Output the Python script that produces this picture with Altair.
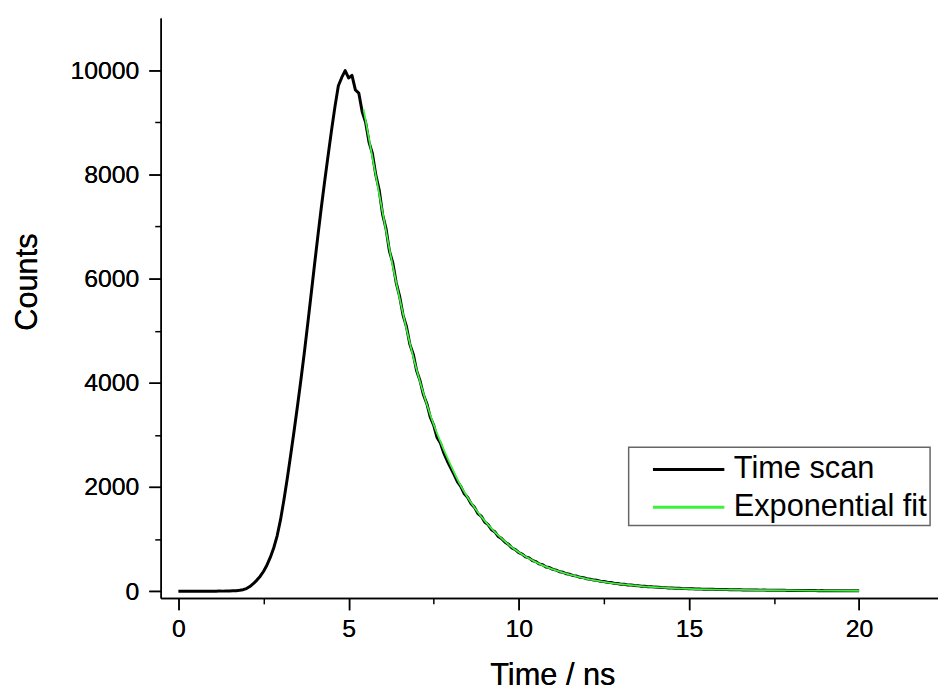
import altair as alt
import pandas as pd

FONT = "Liberation Sans"

# ---- data ----
# Time scan: one value every 0.1 ns, from 0.0 ns to 20.0 ns (one row per ns)
scan_step = 0.1
scan_counts = [
    0, 2, 0, 1, 3, 0, 2, 1, 0, 3,                                  # 0.0 - 0.9
    1, 2, 4, 3, 5, 6, 9, 12, 18, 30,                               # 1.0 - 1.9
    52, 90, 145, 210, 285, 380, 500, 650, 830, 1060,               # 2.0 - 2.9
    1370, 1750, 2170, 2620, 3080, 3560, 4060, 4580, 5130, 5700,    # 3.0 - 3.9
    6270, 6830, 7370, 7880, 8370, 8850, 9300, 9700, 9860, 9990,    # 4.0 - 4.9
    9850, 9900, 9620, 9560, 9200, 9000, 8620, 8400, 7990, 7700,    # 5.0 - 5.9
    7230, 6960, 6530, 6300, 5920, 5660, 5300, 5080, 4740, 4550,    # 6.0 - 6.9
    4230, 4040, 3770, 3600, 3340, 3190, 2950, 2840, 2650, 2500,    # 7.0 - 7.9
    2370, 2240, 2100, 2010, 1870, 1800, 1680, 1610, 1490, 1440,    # 8.0 - 8.9
    1330, 1280, 1180, 1140, 1050, 1010, 940, 900, 830, 800,        # 9.0 - 9.9
    740, 715, 660, 640, 590, 570, 525, 510, 465, 455,              # 10.0 - 10.9
    420, 405, 375, 365, 335, 325, 300, 292, 268, 262,              # 11.0 - 11.9
    240, 232, 215, 210, 192, 188, 172, 168, 154, 150,              # 12.0 - 12.9
    136, 134, 122, 120, 110, 108, 98, 97, 88, 86,                  # 13.0 - 13.9
    80, 78, 71, 70, 64, 63, 57, 58, 52, 51,                        # 14.0 - 14.9
    48, 47, 44, 45, 41, 40, 38, 39, 35, 34,                        # 15.0 - 15.9
    33, 33, 30, 31, 28, 29, 26, 27, 25, 24,                        # 16.0 - 16.9
    24, 22, 23, 20, 21, 19, 20, 18, 18, 17,                        # 17.0 - 17.9
    17, 15, 16, 15, 14, 15, 13, 14, 12, 13,                        # 18.0 - 18.9
    12, 12, 11, 12, 10, 11, 10, 10, 9, 10,                         # 19.0 - 19.9
    9,                                                             # 20.0
]

# Exponential fit (green), read at the times below
fit_time = [5.44, 5.5, 5.75, 6.0, 6.25, 6.5, 6.75, 7.0, 7.25, 7.5, 7.75,
            8.0, 8.25, 8.5, 8.75, 9.0, 9.25, 9.5, 9.75, 10.0, 10.5, 11.0,
            11.5, 12.0, 12.5, 13.0, 13.5, 14.0, 14.5, 15.0, 16.0, 17.0,
            18.0, 19.0, 20.0]
fit_counts = [9250, 9040, 8150, 7270, 6400, 5620, 4900, 4250, 3690, 3200, 2790,
              2420, 2080, 1800, 1560, 1350, 1170, 1010, 870, 750, 560, 420,
              320, 240, 180, 136, 104, 80, 62, 48, 32, 22,
              16, 12, 10]

series_names = ["Time scan", "Exponential fit"]
series_colors = ["#000000", "#3cf03c"]

x_ticks = [0, 5, 10, 15, 20]
x_minor = [2.5, 7.5, 12.5, 17.5]
y_ticks = [0, 2000, 4000, 6000, 8000, 10000]
y_minor = [1000, 3000, 5000, 7000, 9000]

# ---- tables ----
scan_time = [round(i * scan_step, 1) for i in range(len(scan_counts))]
scan_df = pd.DataFrame({"time": scan_time, "counts": scan_counts,
                        "series": series_names[0]})
fit_df = pd.DataFrame({"time": fit_time, "counts": fit_counts,
                       "series": series_names[1]})

xscale = alt.Scale(domain=[-0.52, 22.317], nice=False, zero=False)
yscale = alt.Scale(domain=[-127, 11003], nice=False, zero=False)

axis_common = dict(grid=False, domainColor="black", domainWidth=1.5,
                   tickColor="black", tickWidth=1.5, labelColor="black",
                   labelFont=FONT, labelFontSize=25, titleFont=FONT,
                   titleFontSize=31, titleFontWeight="normal",
                   titleColor="black", labelOverlap=False, format="d")

x_major = alt.Axis(values=x_ticks, tickSize=12, labelPadding=27,
                   labelBaseline="alphabetic", title="Time / ns",
                   titleX=395, titleY=87, titleBaseline="alphabetic",
                   titleAlign="center", orient="bottom", **axis_common)
y_major = alt.Axis(values=y_ticks, tickSize=12, labelPadding=10,
                   title="Counts", titleX=-125, titleY=266,
                   titleBaseline="alphabetic", titleAlign="center",
                   titleAngle=270, orient="left", **axis_common)

x_min_axis = alt.Axis(values=x_minor, tickSize=6, tickWidth=1.5,
                      tickColor="black", labels=False, domain=False,
                      grid=False, title=None, orient="bottom")
y_min_axis = alt.Axis(values=y_minor, tickSize=6, tickWidth=1.5,
                      tickColor="black", labels=False, domain=False,
                      grid=False, title=None, orient="left")

color = alt.Color(
    "series:N",
    scale=alt.Scale(domain=series_names, range=series_colors),
    legend=alt.Legend(title=None, orient="none", legendX=472, legendY=433,
                      symbolType="M-2,0H2", symbolSize=1296,
                      symbolStrokeWidth=3, labelFont=FONT, labelFontSize=31,
                      labelColor="black", labelLimit=500, padding=3,
                      symbolOffset=38, labelOffset=26, rowPadding=3,
                      strokeColor="#666666", fillColor="white"),
)

scan = alt.Chart(scan_df).mark_line(strokeWidth=3, strokeJoin="round").encode(
    x=alt.X("time:Q", scale=xscale, axis=x_major),
    y=alt.Y("counts:Q", scale=yscale, axis=y_major),
    color=color,
    order="time:Q",
)

fit = alt.Chart(fit_df).mark_line(strokeWidth=1.8, interpolate="monotone").encode(
    x=alt.X("time:Q", scale=xscale, axis=x_major),
    y=alt.Y("counts:Q", scale=yscale, axis=y_major),
    color=color,
    order="time:Q",
)

minor = alt.Chart(fit_df).mark_line(opacity=0).encode(
    x=alt.X("time:Q", scale=xscale, axis=x_min_axis),
    y=alt.Y("counts:Q", scale=yscale, axis=y_min_axis),
)

chart = (
    alt.layer(scan, fit, minor)
    .resolve_axis(x="independent", y="independent")
    .properties(
        width=784,
        height=585,
        autosize=alt.AutoSizeParams(type="none"),
        padding={"left": 154, "top": 7, "right": 0, "bottom": 98},
        background="white",
    )
    .configure_view(stroke=None)
    .configure_legend(strokeWidth=1.5)
)

chart.save("out.html", embed_options={"renderer": "svg", "actions": False})
